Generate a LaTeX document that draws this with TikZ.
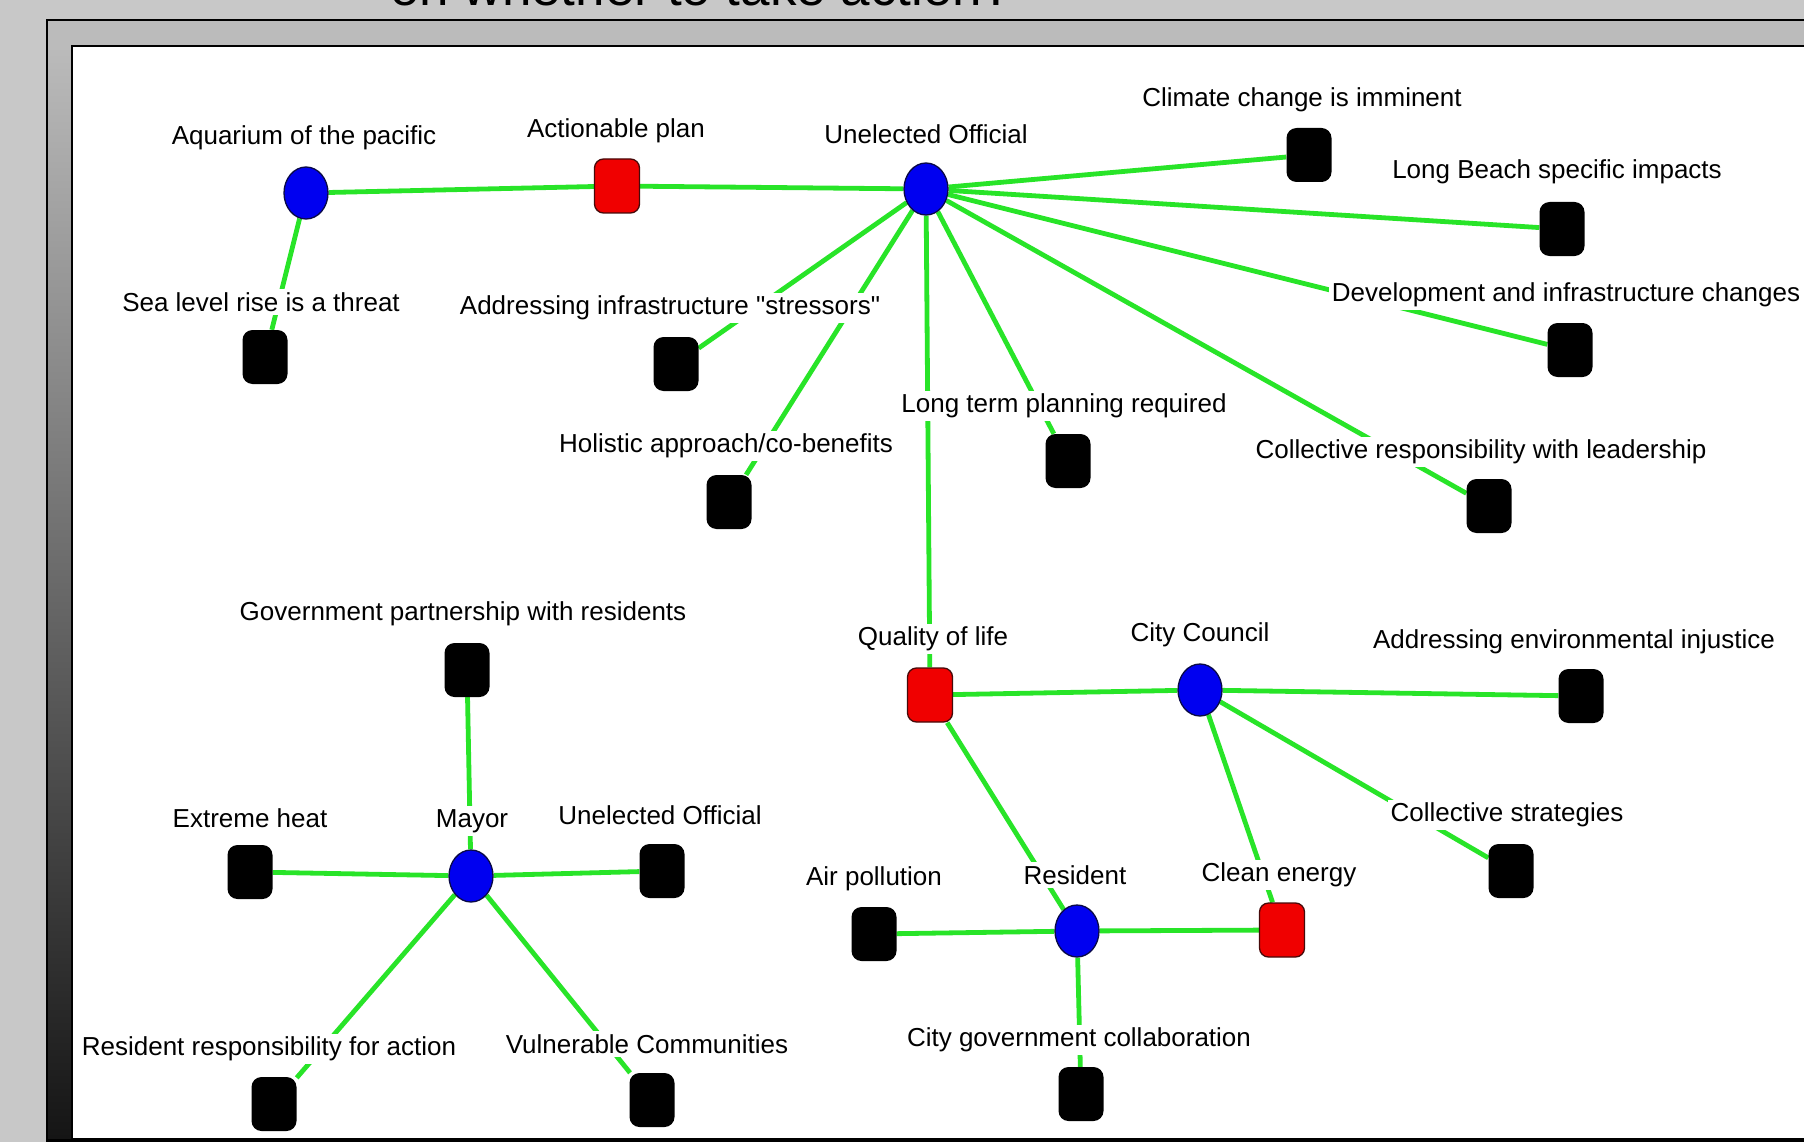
\documentclass[tikz,border=0pt]{standalone}
\usepackage{fontspec}
\setmainfont{Liberation Sans}
\newfontfamily\labelfont{Liberation Sans}
\usetikzlibrary{positioning,shapes.geometric,backgrounds}
\pgfdeclarelayer{edges}
\pgfsetlayers{background,edges,main}
\definecolor{linkgreen}{RGB}{40,228,40}
\definecolor{slidegray}{RGB}{200,200,200}
\definecolor{framegray}{RGB}{187,187,187}
\definecolor{agentblue}{RGB}{0,0,240}
\definecolor{agentline}{RGB}{10,10,70}
\definecolor{planred}{RGB}{240,0,0}
\definecolor{planline}{RGB}{70,10,10}

\begin{document}
\begin{tikzpicture}[
    x=1pt, y=-1pt,
    agent/.style={ellipse, draw=agentline, fill=agentblue, line width=1.3pt,
                  minimum width=44pt, minimum height=52pt, inner sep=0pt},
    planbox/.style={rectangle, rounded corners=9pt, draw=planline, fill=planred, line width=1.3pt,
                    minimum width=45pt, minimum height=54pt, inner sep=0pt},
    theme/.style={rectangle, rounded corners=10pt, fill=black,
                  minimum width=45pt, minimum height=54pt, inner sep=0pt},
    lab/.style={fill=white, inner sep=3pt, yshift=-3pt, font=\labelfont\fontsize{26}{30}\selectfont},
    link/.style={draw=linkgreen, line width=4.8pt},
]
  \useasboundingbox (0,0) rectangle (1804,1142);

  % ---------------- slide frame ----------------
  \begin{scope}[on background layer]
    \fill[slidegray] (0,0) rectangle (1804,1142);
    \fill[framegray, draw=black, line width=2.5pt] (47,20) rectangle (1830,1160);
    \shade[top color=framegray, bottom color=black!92] (48,46) rectangle (72,1142);
    \fill[white, draw=black, line width=2.5pt] (72,46) rectangle (1830,1139);
    \fill[black] (47,1139) rectangle (1804,1142);
  \end{scope}
  \node[font=\fontsize{53}{56}\selectfont, anchor=base, inner sep=0pt] (title) at (701,6) {on whether to take action?};

  % ---------------- top cluster ----------------
  \node[agent]   (aquarium) at (306,193) {};
  \node[planbox] (plan)     at (617,186) {};
  \node[agent]   (official) at (926,189) {};
  \node[theme]   (climate)  at (1309,155) {};
  \node[theme]   (beach)    at (1562,229) {};
  \node[theme]   (dev)      at (1570,350) {};
  \node[theme]   (sea)      at (265,357) {};
  \node[theme]   (stress)   at (676,364) {};
  \node[theme]   (holistic) at (729,502) {};
  \node[theme]   (longterm) at (1068,461) {};
  \node[theme]   (collresp) at (1489,506) {};

  % ---------------- city council cluster ----------------
  \node[planbox] (quality)    at (930,695) {};
  \node[agent]   (council)    at (1200,690) {};
  \node[theme]   (injustice)  at (1581,696) {};
  \node[theme]   (strategies) at (1511,871) {};
  \node[agent]   (resident)   at (1077,931) {};
  \node[planbox] (energy)     at (1282,930) {};
  \node[theme]   (air)        at (874,934) {};
  \node[theme]   (collab)     at (1081,1094) {};

  % ---------------- mayor cluster ----------------
  \node[agent] (mayor)      at (471,876) {};
  \node[theme] (partner)    at (467,670) {};
  \node[theme] (heat)       at (250,872) {};
  \node[theme] (official2)  at (662,871) {};
  \node[theme] (respons)    at (274,1104) {};
  \node[theme] (vulnerable) at (652,1100) {};

  % ---------------- connectors ----------------
  \begin{pgfonlayer}{edges}
    \draw[link] (aquarium) -- (plan);
    \draw[link] (plan) -- (official);
    \draw[link] (aquarium) -- (sea);
    \foreach \t in {climate,beach,dev,stress,holistic,quality,longterm,collresp}
      \draw[link] (official) -- (\t);
    \draw[link] (quality) -- (council);
    \draw[link] (council) -- (injustice);
    \draw[link] (council) -- (strategies);
    \draw[link] (council) -- (energy);
    \draw[link] (quality) -- (resident);
    \draw[link] (resident) -- (air);
    \draw[link] (resident) -- (energy);
    \draw[link] (resident) -- (collab);
    \foreach \t in {partner,heat,official2,respons,vulnerable}
      \draw[link] (mayor) -- (\t);
  \end{pgfonlayer}

  % ---------------- labels ----------------
  \node[lab] (aquariumT)   at (304,135)  {Aquarium of the pacific};
  \node[lab] (planT)       at (616,128)  {Actionable plan};
  \node[lab] (officialT)   at (926,131)  {Unelected Official};
  \node[lab] (climateT)    at (1302,97)  {Climate change is imminent};
  \node[lab] (beachT)      at (1557,169) {Long Beach specific impacts};
  \node[lab] (seaT)        at (261,299)  {Sea level rise is a threat};
  \node[lab] (stressT)     at (670,305)  {Addressing infrastructure "stressors"};
  \node[lab] (devT)        at (1566,292) {Development and infrastructure changes};
  \node[lab] (longtermT)   at (1064,403) {Long term planning required};
  \node[lab] (holisticT)   at (726,443)  {Holistic approach/co-benefits};
  \node[lab] (collrespT)   at (1481,449) {Collective responsibility with leadership};
  \node[lab] (partnerT)    at (463,611)  {Government partnership with residents};
  \node[lab] (qualityT)    at (933,636)  {Quality of life};
  \node[lab] (councilT)    at (1200,632) {City Council};
  \node[lab] (injusticeT)  at (1574,639) {Addressing environmental injustice};
  \node[lab] (heatT)       at (250,815)  {Extreme heat};
  \node[lab] (mayorT)      at (472,818)  {Mayor};
  \node[lab] (official2T)  at (660,812)  {Unelected Official};
  \node[lab] (strategiesT) at (1507,812) {Collective strategies};
  \node[lab] (airT)        at (874,876)  {Air pollution};
  \node[lab] (residentT)   at (1075,872) {Resident};
  \node[lab] (energyT)     at (1279,872) {Clean energy};
  \node[lab] (responsT)    at (269,1046) {Resident responsibility for action};
  \node[lab] (vulnerableT) at (647,1041) {Vulnerable Communities};
  \node[lab] (collabT)     at (1079,1037) {City government collaboration};
\end{tikzpicture}
\end{document}
